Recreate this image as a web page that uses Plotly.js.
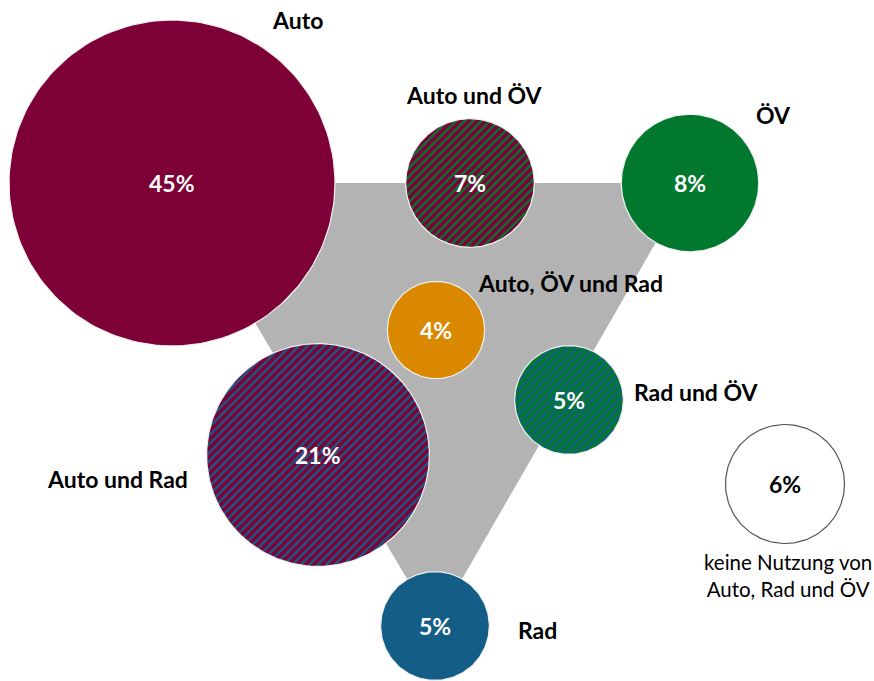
<!DOCTYPE html>
<html>
<head>
<meta charset="utf-8">
<script src="https://cdn.plot.ly/plotly-3.0.1.min.js"></script>
<style>
  html, body { margin: 0; padding: 0; background: #ffffff; }
  #chart { width: 874px; height: 681px; }
</style>
</head>
<body>
<div id="chart"></div>
<script>
// ---- Data ----
const categories = ['Auto', 'Auto und ÖV', 'ÖV', 'Auto, ÖV und Rad', 'Rad und ÖV', 'Auto und Rad', 'Rad', 'keine Nutzung von<br>Auto, Rad und ÖV'];
const shares = [45, 7, 8, 4, 5, 21, 5, 6];
const shareLabels = ['45%', '7%', '8%', '4%', '5%', '21%', '5%', '6%'];

// ---- Layout / styling (pixel space) ----
const centers = [[172, 183], [470, 183], [690, 183], [436, 330], [569, 400], [318, 455], [435, 626], [785, 484]];
const labelPos = [[297, 20], [474, 95], [773, 115], [570, 283], [696, 392], [117, 479], [537, 630], [788, 575]];
const scaleK = 24.3; // radius = k * sqrt(share)
const AUTO = '#7d0037', OEV = '#00782e', RAD = '#145d86', ORANGE = '#d98800';
const styles = [
  {fill: AUTO},
  {fill: AUTO, pat: OEV},
  {fill: OEV},
  {fill: ORANGE},
  {fill: OEV, pat: RAD},
  {fill: AUTO, pat: RAD},
  {fill: RAD},
  {fill: '#ffffff', line: '#555555', text: '#000000', plain: true}
];

function circlePts(cx, cy, r) {
  const xs = [], ys = [];
  for (let i = 0; i <= 180; i++) {
    const a = 2 * Math.PI * i / 180;
    xs.push(cx + r * Math.cos(a));
    ys.push(cy + r * Math.sin(a));
  }
  return {xs, ys};
}

const traces = [];
// gray triangle connecting Auto, ÖV, Rad
const tri = [centers[0], centers[2], centers[6]];
traces.push({
  type: 'scatter', mode: 'lines', fill: 'toself',
  x: tri.map(p => p[0]).concat([tri[0][0]]),
  y: tri.map(p => p[1]).concat([tri[0][1]]),
  fillcolor: '#b3b3b3', line: {width: 0, color: '#b3b3b3'}, hoverinfo: 'skip', showlegend: false
});

shares.forEach((v, i) => {
  const r = scaleK * Math.sqrt(v);
  const pts = circlePts(centers[i][0], centers[i][1], r);
  const st = styles[i];
  const t = {
    type: 'scatter', mode: 'lines', fill: 'toself',
    x: pts.xs, y: pts.ys,
    fillcolor: st.fill,
    line: {width: 1.2, color: st.line || '#f2f2f2'},
    hoverinfo: 'skip', showlegend: false, name: categories[i]
  };
  if (st.pat) {
    t.fillpattern = {shape: '/', bgcolor: st.fill, fgcolor: st.pat, size: 6, solidity: 0.38, fillmode: 'replace'};
  }
  traces.push(t);
});

const annotations = [];
shares.forEach((v, i) => {
  annotations.push({
    x: centers[i][0], y: centers[i][1], xref: 'x', yref: 'y', showarrow: false,
    text: '<b>' + shareLabels[i] + '</b>',
    font: {family: 'Lato, sans-serif', size: 23, color: styles[i].text || '#ffffff'}
  });
  const plain = styles[i].plain;
  annotations.push({
    x: labelPos[i][0], y: labelPos[i][1], xref: 'x', yref: 'y', showarrow: false,
    text: plain ? categories[i] : '<b>' + categories[i] + '</b>',
    align: 'center',
    font: {family: 'Lato, sans-serif', size: plain ? 20.5 : 23, color: '#000000'}
  });
});

const layout = {
  width: 874, height: 681,
  margin: {l: 0, r: 0, t: 0, b: 0},
  paper_bgcolor: '#ffffff', plot_bgcolor: '#ffffff',
  xaxis: {range: [0, 874], visible: false, fixedrange: true},
  yaxis: {range: [681, 0], visible: false, fixedrange: true},
  annotations: annotations,
  showlegend: false
};

Plotly.newPlot('chart', traces, layout, {staticPlot: true, displayModeBar: false});
</script>
</body>
</html>
